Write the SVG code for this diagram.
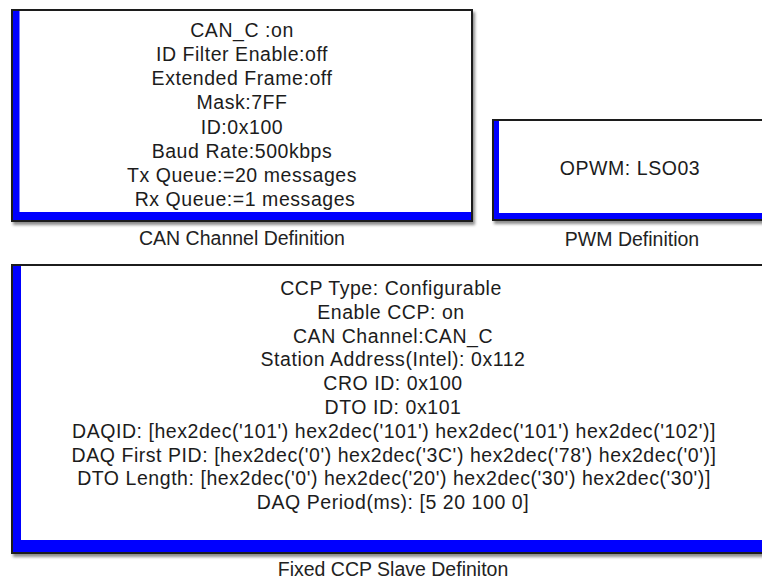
<svg xmlns="http://www.w3.org/2000/svg" width="762" height="580" viewBox="0 0 762 580">
<defs>
<filter id="sh" x="-5%" y="-5%" width="115%" height="120%">
<feDropShadow dx="2" dy="3" stdDeviation="1.6" flood-color="#000" flood-opacity="0.45"/>
</filter>
<style>
.frame{fill:#fff;stroke:#1a1a1a;stroke-width:2}
.blue{fill:#0000ff}
.t{font-family:"Liberation Sans",Arial,sans-serif;font-size:19.5px;letter-spacing:0.55px;fill:#1c1c1c;text-anchor:middle}
.lbl{font-family:"Liberation Sans",Arial,sans-serif;font-size:19.5px;fill:#222;text-anchor:middle}
</style>
</defs>
<rect width="762" height="580" fill="#fff"/>

<g id="can_channel_definition">
<rect class="frame" x="12" y="10" width="460" height="211" filter="url(#sh)"/>
<rect class="blue" x="13" y="11" width="6.5" height="209"/>
<rect class="blue" x="13" y="212" width="458" height="8"/>
<text class="t" x="242" y="37">CAN_C :on</text>
<text class="t" x="242" y="61.2">ID Filter Enable:off</text>
<text class="t" x="242" y="85.3">Extended Frame:off</text>
<text class="t" x="242" y="109.4">Mask:7FF</text>
<text class="t" x="242" y="133.5">ID:0x100</text>
<text class="t" x="242" y="157.5">Baud Rate:500kbps</text>
<text class="t" x="242" y="181.6">Tx Queue:=20 messages</text>
<text class="t" x="245" y="205.7">Rx Queue:=1 messages</text>
<text class="lbl" x="242" y="245">CAN Channel Definition</text>
</g>

<g id="pwm_definition">
<rect class="frame" x="493" y="120" width="276" height="100" filter="url(#sh)"/>
<rect class="blue" x="494" y="121" width="5" height="98"/>
<rect class="blue" x="494" y="213" width="275" height="6"/>
<text class="t" x="630" y="175">OPWM: LSO03</text>
<text class="lbl" x="632" y="245.5">PWM Definition</text>
</g>

<g id="fixed_ccp_slave_definition">
<rect class="frame" x="12" y="265" width="764" height="288" filter="url(#sh)"/>
<rect class="blue" x="13" y="266" width="8" height="286"/>
<rect class="blue" x="13" y="540" width="763" height="12"/>
<text class="t" x="391" y="295">CCP Type: Configurable</text>
<text class="t" x="391" y="318.8">Enable CCP: on</text>
<text class="t" x="393" y="342.6">CAN Channel:CAN_C</text>
<text class="t" x="393" y="366.4">Station Address(Intel): 0x112</text>
<text class="t" x="393" y="390.2">CRO ID: 0x100</text>
<text class="t" x="393" y="414">DTO ID: 0x101</text>
<text class="t" x="394" y="437.8">DAQID: [hex2dec('101') hex2dec('101') hex2dec('101') hex2dec('102')]</text>
<text class="t" x="394" y="461.6">DAQ First PID: [hex2dec('0') hex2dec('3C') hex2dec('78') hex2dec('0')]</text>
<text class="t" x="394" y="485.4">DTO Length: [hex2dec('0') hex2dec('20') hex2dec('30') hex2dec('30')]</text>
<text class="t" x="393" y="509.2">DAQ Period(ms): [5 20 100 0]</text>
<text class="lbl" x="393" y="575.5">Fixed CCP Slave Definiton</text>
</g>

<g id="connectors"></g>
</svg>
